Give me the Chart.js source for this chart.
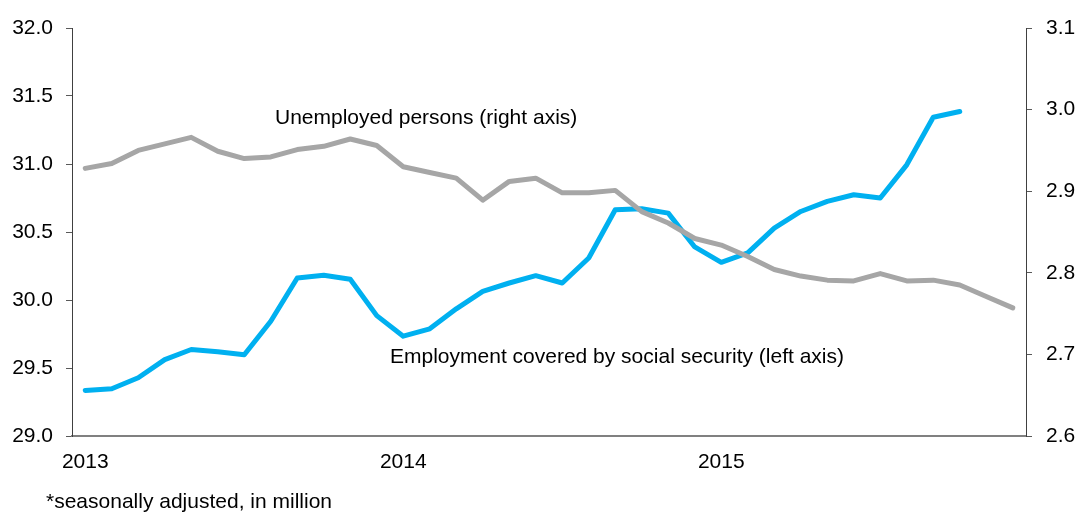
<!DOCTYPE html>
<html>
<head>
<meta charset="utf-8">
<script src="https://cdn.jsdelivr.net/npm/chart.js@4"></script>
<style>
  html, body { margin: 0; padding: 0; background: #ffffff; }
  #wrap { width: 1080px; height: 513px; position: relative; }
</style>
</head>
<body>
<div id="wrap"><canvas id="c" width="1080" height="513"></canvas></div>
<script>
// ---- data ----
const months = [
  '2013-01','2013-02','2013-03','2013-04','2013-05','2013-06','2013-07','2013-08','2013-09','2013-10','2013-11','2013-12',
  '2014-01','2014-02','2014-03','2014-04','2014-05','2014-06','2014-07','2014-08','2014-09','2014-10','2014-11','2014-12',
  '2015-01','2015-02','2015-03','2015-04','2015-05','2015-06','2015-07','2015-08','2015-09','2015-10','2015-11','2015-12'
];
const employment = [
  29.335, 29.347, 29.428, 29.562, 29.636, 29.619, 29.597, 29.844, 30.162, 30.182, 30.152, 29.885,
  29.734, 29.788, 29.935, 30.064, 30.125, 30.179, 30.125, 30.309, 30.664, 30.671, 30.639, 30.390,
  30.277, 30.346, 30.529, 30.651, 30.725, 30.774, 30.750, 30.994, 31.344, 31.386
];
const unemployed = [
  2.928, 2.934, 2.950, 2.958, 2.966, 2.949, 2.940, 2.942, 2.951, 2.955, 2.964, 2.956,
  2.930, 2.923, 2.916, 2.889, 2.912, 2.916, 2.898, 2.898, 2.901, 2.875, 2.861, 2.842,
  2.834, 2.820, 2.804, 2.796, 2.791, 2.790, 2.799, 2.790, 2.791, 2.785, 2.771, 2.757
];
const leftTicks = { min: 29.0, max: 32.0, step: 0.5 };
const rightTicks = { min: 2.6, max: 3.1, step: 0.1 };
const labelUnemployed = 'Unemployed persons (right axis)';
const labelEmployment = 'Employment covered by social security (left axis)';
const footnote = '*seasonally adjusted, in million';

const FONT = '"Liberation Sans", Arial, sans-serif';
const FS = 21;

const textPlugin = {
  id: 'texts',
  afterDraw(chart) {
    const ctx = chart.ctx;
    ctx.save();
    ctx.fillStyle = '#000000';
    ctx.font = FS + 'px ' + FONT;
    ctx.textAlign = 'left';
    ctx.textBaseline = 'alphabetic';
    ctx.fillText(labelUnemployed, 275, 124);
    ctx.fillText(labelEmployment, 390, 363);
    ctx.fillText(footnote, 46, 508);
    ctx.restore();
  }
};

new Chart(document.getElementById('c'), {
  type: 'line',
  data: {
    labels: months,
    datasets: [
      {
        label: 'Unemployed persons',
        data: unemployed,
        yAxisID: 'y1',
        borderColor: '#A6A6A6',
        borderWidth: 5,
        pointRadius: 0,
        tension: 0,
        borderCapStyle: 'round',
        borderJoinStyle: 'round',
        order: 0
      },
      {
        label: 'Employment covered by social security',
        data: employment,
        yAxisID: 'y',
        borderColor: '#00B0F0',
        borderWidth: 5,
        pointRadius: 0,
        tension: 0,
        borderCapStyle: 'round',
        borderJoinStyle: 'round',
        order: 1
      }
    ]
  },
  options: {
    responsive: false,
    animation: false,
    events: [],
    layout: { padding: { top: 28, left: 0, right: 0, bottom: 0 } },
    plugins: { legend: { display: false }, tooltip: { enabled: false } },
    scales: {
      x: {
        type: 'category',
        offset: true,
        grid: { display: false, drawTicks: false },
        border: { display: true, color: '#808080', width: 2 },
        ticks: {
          autoSkip: false,
          maxRotation: 0,
          padding: 14,
          color: '#000000',
          font: { family: FONT, size: FS },
          callback: function(v, i) {
            const m = months[i];
            return m.endsWith('-01') ? m.slice(0, 4) : '';
          }
        },
        afterFit(scale) { scale.height = 77; }
      },
      y: {
        position: 'left',
        min: leftTicks.min,
        max: leftTicks.max,
        grid: { drawOnChartArea: false, drawTicks: true, tickLength: 6, color: '#595959' },
        border: { display: true, color: '#404040', width: 1 },
        ticks: {
          stepSize: leftTicks.step,
          padding: 13,
          color: '#000000',
          font: { family: FONT, size: FS },
          callback: v => Number(v).toFixed(1)
        },
        afterFit(scale) { scale.width = 72; }
      },
      y1: {
        position: 'right',
        min: rightTicks.min,
        max: rightTicks.max,
        grid: { drawOnChartArea: false, drawTicks: true, tickLength: 6, color: '#595959' },
        border: { display: true, color: '#404040', width: 1 },
        ticks: {
          stepSize: rightTicks.step,
          padding: 14,
          color: '#000000',
          font: { family: FONT, size: FS },
          callback: v => Number(v).toFixed(1)
        },
        afterFit(scale) { scale.width = 54; }
      }
    }
  },
  plugins: [textPlugin]
});
</script>
</body>
</html>
